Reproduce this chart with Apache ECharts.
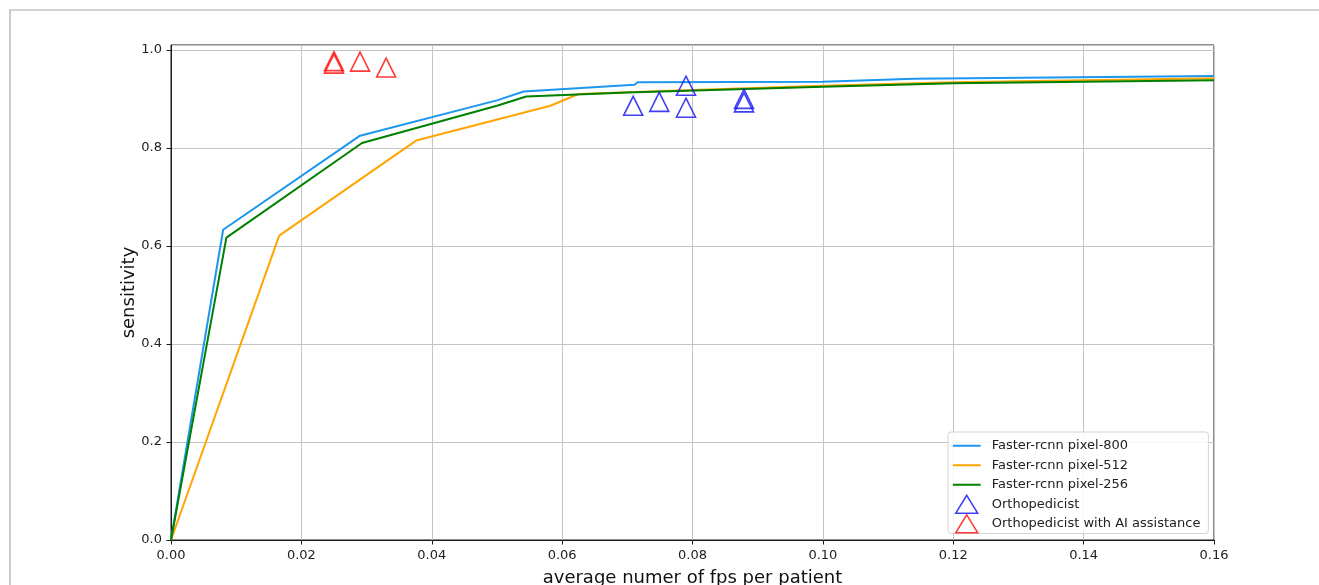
<!DOCTYPE html>
<html>
<head>
<meta charset="utf-8">
<script src="https://cdn.jsdelivr.net/npm/echarts@6/dist/echarts.min.js"></script>
<style>
  html, body { margin: 0; padding: 0; background: #fff; }
  #frame { position: absolute; left: 9px; top: 9px; right: 0; bottom: 0; border-top: 2px solid #d2d2d2; border-left: 2px solid #cacaca; }
  #chart { position: absolute; left: 0; top: 0; width: 1319px; height: 585px; }
</style>
</head>
<body>
<div id="frame"></div>
<div id="chart"></div>
<script>
// ---- data ----
const px800X = [0, 0.0080, 0.0290, 0.0500, 0.0541, 0.0711, 0.0716, 0.1000, 0.1140, 0.1600];
const px800Y = [0, 0.633, 0.825, 0.897, 0.915, 0.929, 0.934, 0.935, 0.941, 0.947];
const px512X = [0, 0.0166, 0.0376, 0.0582, 0.0625, 0.0800, 0.1000, 0.1200, 0.1600];
const px512Y = [0, 0.621, 0.815, 0.886, 0.910, 0.918, 0.927, 0.934, 0.942];
const px256X = [0, 0.0085, 0.0293, 0.0500, 0.0545, 0.0700, 0.1000, 0.1200, 0.1600];
const px256Y = [0, 0.617, 0.810, 0.886, 0.905, 0.913, 0.925, 0.932, 0.938];
const orthoX = [0.0709, 0.0749, 0.0790, 0.0790, 0.0879, 0.0879];
const orthoY = [0.886, 0.894, 0.927, 0.882, 0.900, 0.893];
const orthoAIX = [0.0250, 0.0250, 0.0290, 0.0330];
const orthoAIY = [0.977, 0.972, 0.976, 0.964];
const seriesNames = ['Faster-rcnn pixel-800', 'Faster-rcnn pixel-512', 'Faster-rcnn pixel-256', 'Orthopedicist', 'Orthopedicist with AI assistance'];

const zip = (xs, ys) => xs.map((x, i) => [x, ys[i]]);
const FONT = 'DejaVu Sans';
const LINE_ICON = 'path://M0 0 L0.01 0 L0 0.01 Z M0 8 L28 8 L28 10 L0 10 Z M0 18 L0.01 18 L0 17.99 Z';
const TRI_ICON = 'path://M11 0 L22 18 L0 18 Z';
const BW = 1.6;

const chart = echarts.init(document.getElementById('chart'), null, { renderer: 'canvas' });

const lineSeries = (name, xs, ys, color) => ({
  name, type: 'line', data: zip(xs, ys), symbol: 'none', showSymbol: false,
  lineStyle: { color, width: 2 }, itemStyle: { color }, z: 2, animation: false
});
const triSeries = (name, xs, ys, color) => ({
  name, type: 'scatter', data: zip(xs, ys), symbol: 'triangle', symbolSize: [19, 19],
  itemStyle: { color: 'none', borderColor: color, borderWidth: BW }, z: 3, animation: false
});

const colors = ['#1c96ee', '#ffa500', '#008000', '#1010ee', '#ff0a0a'];
const lineLegend = (i) => ({ name: seriesNames[i], icon: LINE_ICON,
  itemStyle: { color: colors[i], borderColor: 'rgba(255,255,255,0)', borderWidth: BW } });
const triLegend = (i) => ({ name: seriesNames[i], icon: TRI_ICON,
  itemStyle: { color: 'rgba(255,255,255,0)', borderColor: colors[i], borderWidth: BW } });

chart.setOption({
  animation: false,
  grid: { left: 171, right: 105, top: 45, bottom: 45, show: true, borderColor: '#1a1a1a', borderWidth: 1,
    containLabel: false, outerBoundsMode: 'none' },
  xAxis: {
    type: 'value', min: 0, max: 0.16, interval: 0.02,
    name: 'average numer of fps per patient', nameLocation: 'middle', nameGap: 29, nameMoveOverlap: false,
    nameTextStyle: { fontFamily: FONT, fontSize: 18, color: '#111' },
    axisLine: { show: true, onZero: false, lineStyle: { color: '#1a1a1a', width: 1 } },
    axisTick: { show: true, length: 4.5, inside: false, lineStyle: { color: '#1a1a1a' } },
    axisLabel: { fontFamily: FONT, fontSize: 13, color: '#222', margin: 9,
      formatter: v => v.toFixed(2) },
    splitLine: { show: true, lineStyle: { color: '#c4c4c4', width: 1 } }
  },
  yAxis: {
    type: 'value', min: 0, max: 1.01, interval: 0.2,
    name: 'sensitivity', nameLocation: 'middle', nameGap: 33, nameMoveOverlap: false,
    nameTextStyle: { fontFamily: FONT, fontSize: 18, color: '#111' },
    axisLine: { show: true, onZero: false, lineStyle: { color: '#1a1a1a', width: 1 } },
    axisTick: { show: true, length: 4.5, lineStyle: { color: '#1a1a1a' } },
    axisLabel: { fontFamily: FONT, fontSize: 13, color: '#222', margin: 9, showMaxLabel: false,
      formatter: v => (Math.abs(v * 5 - Math.round(v * 5)) < 1e-6 ? v.toFixed(1) : '') },
    splitLine: { show: true, lineStyle: { color: '#c4c4c4', width: 1 } }
  },
  legend: {
    orient: 'vertical', left: 948, top: 432,
    data: [lineLegend(0), lineLegend(1), lineLegend(2), triLegend(3), triLegend(4)],
    itemWidth: 28, itemHeight: 17.9, itemGap: 0,
    padding: [4, 8, 0, 4],
    backgroundColor: 'rgba(255,255,255,0.85)', borderColor: '#d4d4d4', borderWidth: 1, borderRadius: 3,
    symbolKeepAspect: true,
    textStyle: { fontFamily: FONT, fontSize: 13, color: '#222', padding: [0, 0, 0, 6] }
  },
  series: [
    lineSeries(seriesNames[0], px800X, px800Y, colors[0]),
    lineSeries(seriesNames[1], px512X, px512Y, colors[1]),
    lineSeries(seriesNames[2], px256X, px256Y, colors[2]),
    triSeries(seriesNames[3], orthoX, orthoY, colors[3]),
    triSeries(seriesNames[4], orthoAIX, orthoAIY, colors[4])
  ]
});
</script>
</body>
</html>
